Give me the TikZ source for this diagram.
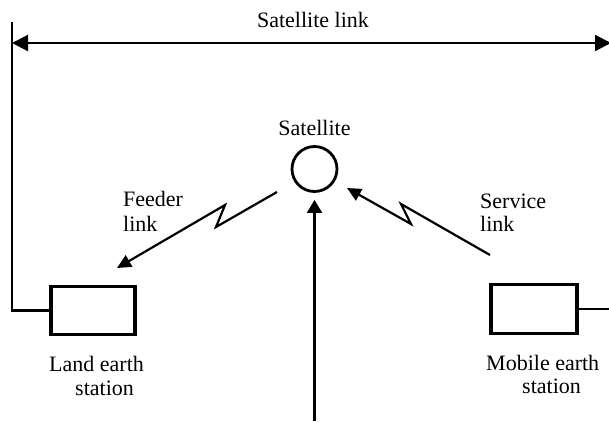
\documentclass[tikz,border=0pt]{standalone}
\usepackage{fontspec}
\setmainfont{Liberation Serif}
\usetikzlibrary{arrows.meta}
\begin{document}
\begin{tikzpicture}[x=1pt,y=-1pt,
  lbl/.style={anchor=base west, inner sep=0pt, font=\fontsize{22}{25}\selectfont},
  stationbox/.style={draw, line width=3.2pt, minimum width=84pt, minimum height=48pt, inner sep=0pt},
  link/.style={line width=2.2pt},
  ray head/.style={-{Triangle[length=14pt,width=13pt]}},
]
\useasboundingbox (0,0) rectangle (609,421);

% stations and satellite
\node[stationbox] (land) at (93,310.5) {};
\node[stationbox, minimum width=86pt, minimum height=49pt] (mobile) at (534,309) {};
\node[draw, circle, line width=2.8pt, minimum size=45pt, inner sep=0pt] (sat) at (314.5,169) {};

% satellite link span
\coordinate (ltop) at (12,22);
\coordinate (la) at (12,43);
\coordinate (ra) at (611,43);
\coordinate (redge) at (610,309);
\draw[link, {Triangle[length=16pt,width=16pt]}-{Triangle[length=16pt,width=16pt]}] (la) -- (ra);
\draw[link] (ltop) |- (land.west);
\draw[link] (mobile.east) -- (redge);

% feeder link (zig-zag radio path)
\coordinate (fa) at (277,192);
\coordinate (fz1) at (216,227);
\coordinate (fz2) at (225,205);
\coordinate (fb) at (117,268);
\draw[link, ray head, line join=miter] (fa) -- (fz1) -- (fz2) -- (fb);

% service link (zig-zag radio path)
\coordinate (sa) at (490,255);
\coordinate (sz1) at (401,204);
\coordinate (sz2) at (411,224);
\coordinate (sb) at (347,188);
\draw[link, ray head, line join=miter] (sa) -- (sz1) -- (sz2) -- (sb);

% vertical arrow into the satellite
\coordinate (vb) at (314.5,421);
\draw[link, -{Triangle[length=13pt,width=15pt]}, shorten >=7pt] (vb) -- (sat.south);

% labels
\node[lbl, anchor=base] (tsat) at (313,27) {Satellite link};
\node[lbl, anchor=base] (tsatl) at (314.5,135) {Satellite};
\node[lbl] (tfeed1) at (123,206.5) {Feeder};
\node[lbl] (tfeed2) at (123,231.5) {link};
\node[lbl] (tserv1) at (480,208) {Service};
\node[lbl] (tserv2) at (480,231.5) {link};
\node[lbl] (tland1) at (49,371.5) {Land earth};
\node[lbl] (tland2) at (75,395) {station};
\node[lbl] (tmob1) at (486,370) {Mobile earth};
\node[lbl] (tmob2) at (522,393) {station};
\end{tikzpicture}
\end{document}
